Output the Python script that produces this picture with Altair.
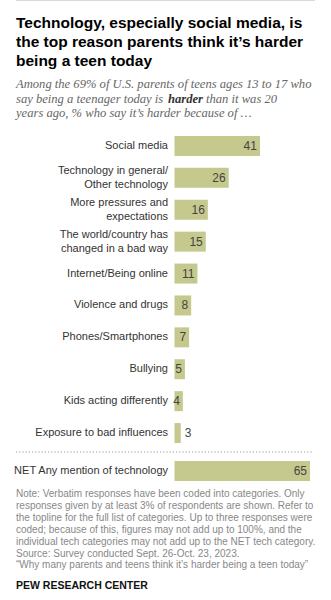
import altair as alt
import pandas as pd

# ---------------- data ----------------
categories = [
    "Social media",
    "Technology in general/|Other technology",
    "More pressures and|expectations",
    "The world/country has|changed in a bad way",
    "Internet/Being online",
    "Violence and drugs",
    "Phones/Smartphones",
    "Bullying",
    "Kids acting differently",
    "Exposure to bad influences",
]
values = [41, 26, 16, 15, 11, 8, 7, 5, 4, 3]

net_categories = ["NET Any mention of technology"]
net_values = [65]

title_lines = [
    "Technology, especially social media, is",
    "the top reason parents think it\u2019s harder",
    "being a teen today",
]
subtitle_line1 = "Among the 69% of U.S. parents of teens ages 13 to 17 who"
subtitle_line2 = ["say being a teenager today is", "harder", "than it was 20"]
subtitle_line3 = "years ago, % who say it\u2019s harder because of \u2026"
note_lines = [
    "Note: Verbatim responses have been coded into categories. Only",
    "responses given by at least 3% of respondents are shown. Refer to",
    "the topline for the full list of categories. Up to three responses were",
    "coded; because of this, figures may not add up to 100%, and the",
    "individual tech categories may not add up to the NET tech category.",
    "Source: Survey conducted Sept. 26-Oct. 23, 2023.",
    "\u201cWhy many parents and teens think it\u2019s harder being a teen today\u201d",
]
source_label = "PEW RESEARCH CENTER"

# ---------------- styles ----------------
SANS = "Liberation Sans"
SERIF = "Liberation Serif"
BAR = "#c5c98e"

df = pd.DataFrame({"category": categories, "value": values})
net_df = pd.DataFrame({"category": net_categories, "value": net_values})
one = pd.DataFrame({"k": [0]})

x_enc = alt.X(
    "value:Q",
    scale=alt.Scale(domain=[0, 65], range=[174.5, 310], nice=False, zero=True),
    axis=None,
)
y_main = alt.Y(
    "category:N",
    sort=categories,
    scale=alt.Scale(domain=categories, range=[130, 449], paddingInner=0.373, paddingOuter=0.1865),
    axis=None,
)
y_net = alt.Y(
    "category:N",
    scale=alt.Scale(domain=net_categories, range=[461, 481], paddingInner=0, paddingOuter=0),
    axis=None,
)

bars = alt.Chart(df).mark_bar(color=BAR).encode(x=x_enc, y=y_main)
vals_in = (
    alt.Chart(df)
    .transform_filter("datum.value >= 4")
    .mark_text(align="right", baseline="middle", dx=-3, font=SANS, fontSize=12, color="#444")
    .encode(x=x_enc, y=y_main, text="value:Q")
)
vals_out = (
    alt.Chart(df)
    .transform_filter("datum.value < 4")
    .mark_text(align="left", baseline="middle", dx=4, font=SANS, fontSize=12, color="#444")
    .encode(x=x_enc, y=y_main, text="value:Q")
)
label_kw = dict(align="right", baseline="middle", lineHeight=14, font=SANS, fontSize=11, color="#333")
labels_one = (
    alt.Chart(df)
    .transform_filter("indexof(datum.category, '|') < 0")
    .mark_text(**label_kw)
    .encode(x=alt.value(168), y=y_main, text="category:N")
)
labels_two = (
    alt.Chart(df)
    .transform_filter("indexof(datum.category, '|') >= 0")
    .transform_calculate(lab="split(datum.category, '|')")
    .mark_text(dy=-7, **label_kw)
    .encode(x=alt.value(168), y=y_main, text="lab:N")
)
main = alt.layer(bars, vals_in, vals_out, labels_one, labels_two)

net_bar = alt.Chart(net_df).mark_bar(color=BAR).encode(x=x_enc, y=y_net)
net_val = (
    alt.Chart(net_df)
    .mark_text(align="right", baseline="middle", dx=-3, font=SANS, fontSize=12, color="#444")
    .encode(x=x_enc, y=y_net, text="value:Q")
)
net_lab = (
    alt.Chart(net_df)
    .mark_text(align="right", baseline="middle", font=SANS, fontSize=11, color="#333")
    .encode(x=alt.value(168), y=y_net, text="category:N")
)
net = alt.layer(net_bar, net_val, net_lab)

deco = []
# top rule
deco.append(
    alt.Chart(one).mark_rule(color="#d9d9d9", strokeWidth=1)
    .encode(x=alt.value(16), x2=alt.value(315), y=alt.value(0.5))
)
# dotted separator
deco.append(
    alt.Chart(one).mark_rule(color="#9a9a9a", strokeWidth=1, strokeDash=[1.2, 2])
    .encode(x=alt.value(16), x2=alt.value(312), y=alt.value(452))
)


def line_text(txt, x, y, **kw):
    return (
        alt.Chart(one)
        .mark_text(align="left", baseline="alphabetic", **kw)
        .encode(x=alt.value(x), y=alt.value(y), text=alt.value(txt))
    )


for i, t in enumerate(title_lines):
    deco.append(line_text(t, 16, 27.5 + 19 * i, font=SANS, fontSize=15.5, fontWeight="bold", color="#000"))

sub_kw = dict(font=SERIF, fontSize=12.6, fontStyle="italic", color="#666")
deco.append(line_text(subtitle_line1, 16, 88, **sub_kw))
deco.append(line_text(subtitle_line2[0], 16, 102.5, **sub_kw))
deco.append(line_text(subtitle_line2[1], 168, 102.5, font=SERIF, fontSize=12.6, fontStyle="italic",
                      fontWeight="bold", color="#333"))
deco.append(line_text(subtitle_line2[2], 206, 102.5, **sub_kw))
deco.append(line_text(subtitle_line3, 16, 117, **sub_kw))

for i, t in enumerate(note_lines):
    deco.append(line_text(t, 16, 497 + 11.9 * i, font=SANS, fontSize=10, color="#888"))

deco.append(line_text(source_label, 16, 589, font=SANS, fontSize=10.5, fontWeight="bold", color="#111"))

chart = (
    alt.layer(main, net, *deco)
    .resolve_scale(y="independent")
    .properties(width=331, height=600, autosize="none", padding=0, background="white")
    .configure_view(stroke=None)
)

chart.save("out.html", embed_options={"renderer": "svg", "actions": False})
